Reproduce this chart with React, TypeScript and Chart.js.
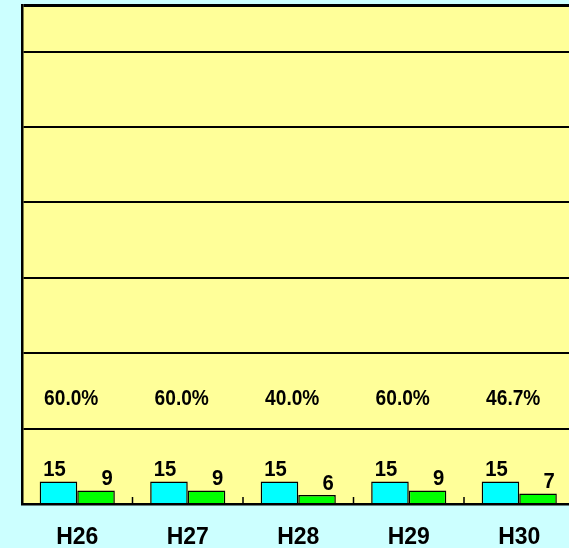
import React, { useEffect, useRef } from "react";
import { Chart, registerables } from "chart.js";

Chart.register(...registerables);

const categories = ["H26", "H27", "H28", "H29", "H30"];
const seriesTotal = [15, 15, 15, 15, 15];
const seriesPart = [9, 9, 6, 9, 7];
const rateLabels = ["60.0%", "60.0%", "40.0%", "60.0%", "46.7%"];
const yMin = 0;
const yMax = 331;
const yStep = 50;
const rateLabelLevel = 70;

const FONT = '"Liberation Sans", Arial, sans-serif';

const decorPlugin = {
  id: "decor",
  beforeDraw(chart: any) {
    const { ctx, chartArea } = chart;
    ctx.save();
    ctx.fillStyle = "#ffff99";
    ctx.fillRect(chartArea.left, chartArea.top, chartArea.right - chartArea.left, chartArea.bottom - chartArea.top);
    ctx.restore();
  },
  afterDatasetsDraw(chart: any) {
    const { ctx, chartArea } = chart;
    const xs = chart.scales.x;
    const ys = chart.scales.y;
    ctx.save();
    // inward tick marks at category boundaries
    ctx.strokeStyle = "#000";
    ctx.lineWidth = 1.5;
    for (let i = 1; i < categories.length; i++) {
      const px = (xs.getPixelForValue(i - 1) + xs.getPixelForValue(i)) / 2;
      ctx.beginPath();
      ctx.moveTo(px, chartArea.bottom);
      ctx.lineTo(px, chartArea.bottom - 7);
      ctx.stroke();
    }
    // value labels
    ctx.fillStyle = "#000";
    ctx.font = `bold 22px ${FONT}`;
    ctx.textAlign = "center";
    ctx.textBaseline = "alphabetic";
    chart.data.datasets.forEach((ds: any, di: number) => {
      const meta = chart.getDatasetMeta(di);
      meta.data.forEach((el: any, i: number) => {
        const dx = di === 0 ? -4 : 11;
        ctx.save();
        ctx.translate(el.x + dx, el.y - 5);
        ctx.scale(0.92, 1);
        ctx.fillText(String(ds.data[i]), 0, 0);
        ctx.restore();
      });
    });
    // rate labels
    ctx.font = `bold 22px ${FONT}`;
    ctx.textBaseline = "middle";
    const py = ys.getPixelForValue(rateLabelLevel);
    rateLabels.forEach((t, i) => {
      const px = xs.getPixelForValue(i) - 6;
      ctx.save();
      ctx.translate(px, py);
      ctx.scale(0.87, 1);
      ctx.fillText(t, 0, 0);
      ctx.restore();
    });
    ctx.restore();
  },
};

export default function App() {
  const ref = useRef<HTMLCanvasElement>(null);
  useEffect(() => {
    const chart = new Chart(ref.current as HTMLCanvasElement, {
      type: "bar",
      data: {
        labels: categories,
        datasets: [
          {
            data: seriesTotal,
            backgroundColor: "#00ffff",
            borderColor: "#000",
            borderWidth: 1.5,
            categoryPercentage: 0.68,
            barPercentage: 1,
          },
          {
            data: seriesPart,
            backgroundColor: "#00ff00",
            borderColor: "#000",
            borderWidth: 1.5,
            categoryPercentage: 0.68,
            barPercentage: 1,
          },
        ],
      },
      options: {
        responsive: false,
        animation: false,
        layout: { padding: { left: 22, right: 5.5, top: 5, bottom: 0 } },
        plugins: { legend: { display: false }, tooltip: { enabled: false } },
        scales: {
          x: {
            grid: { display: false, drawTicks: false },
            border: { display: true, color: "#000", width: 2.5 },
            ticks: {
              color: "#000",
              font: { family: FONT, size: 23, weight: "bold" },
              padding: 20,
            },
            afterFit: (s: any) => {
              s.height = 44;
            },
          },
          y: {
            min: yMin,
            max: yMax,
            ticks: { display: false, stepSize: yStep },
            grid: {
              color: "#000",
              lineWidth: (c: any) => (c.tick && c.tick.value === yMax ? 3 : 2),
              drawTicks: false,
            },
            border: { display: true, color: "#000", width: 2.5 },
            afterFit: (s: any) => {
              s.width = 0;
            },
          },
        },
      },
      plugins: [decorPlugin],
    });
    return () => chart.destroy();
  }, []);
  return (
    <div
      style={{
        position: "fixed",
        left: 0,
        top: 0,
        width: 569,
        height: 548,
        overflow: "hidden",
        background: "#ccffff",
      }}
    >
      <canvas ref={ref} width={580} height={548} style={{ display: "block" }} />
    </div>
  );
}
